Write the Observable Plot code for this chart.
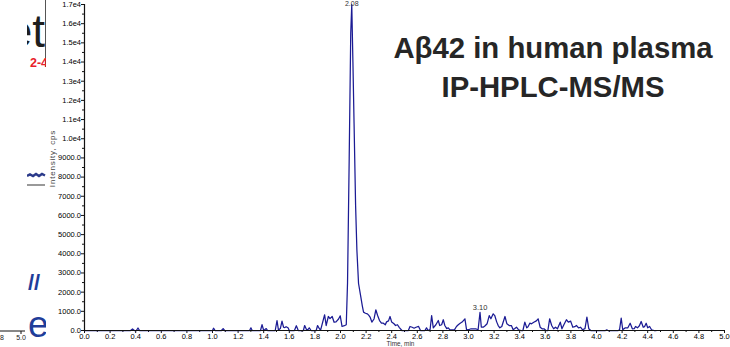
<!DOCTYPE html>
<html>
<head>
<meta charset="utf-8">
<script src="https://cdn.jsdelivr.net/npm/d3@7"></script>
<script src="https://cdn.jsdelivr.net/npm/@observablehq/plot@0.6"></script>
<style>
  html, body { margin: 0; padding: 0; background: #fff; }
  #wrap { position: relative; width: 730px; height: 347px; overflow: hidden; background: #fff; }
  #wrap > svg.overlay { position: absolute; left: 0; top: 0; pointer-events: none; }
</style>
</head>
<body>
<div id="wrap"></div>
<script>
// ---- data ----
const times = [
  0.00, 0.36, 0.375, 0.39, 0.405, 0.418, 0.43,
  1.00, 1.008, 1.02, 1.07, 1.083, 1.095,
  1.29, 1.30, 1.31, 1.375, 1.387, 1.40, 1.42, 1.43,
  1.49, 1.504, 1.515, 1.53, 1.543, 1.555, 1.565, 1.575, 1.59, 1.60,
  1.64, 1.655, 1.67, 1.71, 1.72, 1.735, 1.745, 1.756, 1.77,
  1.81, 1.821, 1.835, 1.845, 1.876, 1.888, 1.905, 1.918, 1.935, 1.95, 1.965, 1.985, 1.998,
  2.012, 2.03, 2.045, 2.055, 2.068, 2.08, 2.088, 2.097, 2.106, 2.118, 2.128, 2.141, 2.159, 2.17, 2.18,
  2.195, 2.21, 2.22, 2.231, 2.245, 2.262, 2.276, 2.29, 2.305, 2.32, 2.335, 2.35, 2.36, 2.375, 2.387,
  2.40, 2.418, 2.43, 2.445, 2.46, 2.48,
  2.53, 2.543, 2.56, 2.575, 2.59, 2.61, 2.625, 2.66, 2.672, 2.685,
  2.70, 2.712, 2.725, 2.745, 2.764, 2.775, 2.79, 2.803, 2.815, 2.83, 2.842, 2.855,
  2.89, 2.906, 2.92, 2.935, 2.95, 2.972, 2.985, 3.00, 3.02, 3.04, 3.06, 3.075,
  3.09, 3.10, 3.115, 3.13, 3.145, 3.162, 3.175, 3.193, 3.205, 3.22, 3.232, 3.245, 3.26, 3.285,
  3.30, 3.318, 3.335, 3.349, 3.362, 3.375, 3.39, 3.41, 3.425,
  3.44, 3.455, 3.465, 3.479, 3.492, 3.51, 3.53, 3.544, 3.56, 3.575, 3.59, 3.605, 3.62,
  3.634, 3.65, 3.665, 3.68, 3.695, 3.717, 3.73, 3.745, 3.765, 3.78, 3.798, 3.815, 3.83, 3.843,
  3.86, 3.875, 3.89, 3.91, 3.925, 3.94, 3.955,
  4.07, 4.08, 4.09, 4.17, 4.18, 4.193, 4.205, 4.225, 4.245, 4.263, 4.28, 4.295, 4.305, 4.32,
  4.335, 4.349, 4.365, 4.375, 4.388, 4.40, 4.415, 4.43, 4.45, 4.466
];
const intensities = [
  0, 0, 80, 0, 0, 130, 0,
  0, 120, 0, 0, 100, 0,
  0, 140, 0, 0, 310, 0, 100, 0,
  0, 520, 30, 100, 490, 170, 150, 200, 140, 0,
  0, 250, 0, 0, 260, 40, 40, 140, 0,
  0, 260, 90, 30, 820, 260, 730, 620, 730, 430, 450, 600, 765,
  210, 250, 300, 2500, 9000, 15500, 17000, 14000, 10800, 6500, 4200, 2450, 1740, 1300, 960,
  900, 870, 800, 700, 440, 600, 1080, 780, 520, 380, 380, 300, 450, 500, 730,
  440, 350, 260, 300, 150, 0,
  0, 210, 170, 120, 170, 210, 0, 0, 140, 0,
  50, 780, 140, 300, 520, 260, 300, 560, 260, 100, 140, 30,
  30, 210, 300, 380, 440, 610, 30, 40, 90, 90, 80, 40,
  950, 180, 170, 250, 350, 780, 610, 870, 780, 450, 260, 140, 210, 730,
  350, 260, 260, 40, 100, 170, 40, 0, 0,
  435, 140, 200, 380, 350, 430, 500, 610, 170, 90, 90, 0, 0,
  610, 260, 90, 170, 90, 435, 90, 300, 560, 435, 490, 170, 200, 260,
  140, 170, 40, 100, 700, 90, 0,
  0, 30, 0, 0, 40, 645, 40, 140, 140, 380, 90, 100, 210, 140,
  250, 470, 170, 200, 380, 140, 210, 40, 0, 0
];
const peakLabels = ["2.08", "3.10"];
const peakTimes = [2.088, 3.09];
const peakValues = [17000, 950];

const xTickValues = [0, 0.2, 0.4, 0.6, 0.8, 1.0, 1.2, 1.4, 1.6, 1.8, 2.0, 2.2, 2.4, 2.6, 2.8, 3.0, 3.2, 3.4, 3.6, 3.8, 4.0, 4.2, 4.4, 4.6, 4.8, 5.0];
const xTickLabels = ["0.0","0.2","0.4","0.6","0.8","1.0","1.2","1.4","1.6","1.8","2.0","2.2","2.4","2.6","2.8","3.0","3.2","3.4","3.6","3.8","4.0","4.2","4.4","4.6","4.8","5.0"];
const yTickValues = [0, 1000, 2000, 3000, 4000, 5000, 6000, 7000, 8000, 9000, 10000, 11000, 12000, 13000, 14000, 15000, 16000, 17000];
const yTickLabels = ["0.0","1000.0","2000.0","3000.0","4000.0","5000.0","6000.0","7000.0","8000.0","9000.0","1.0e4","1.1e4","1.2e4","1.3e4","1.4e4","1.5e4","1.6e4","1.7e4"];
const xMinor = xTickValues.slice(0, -1).map(v => v + 0.1);
const yMinor = yTickValues.slice(0, -1).map(v => v + 500);

const titleLines = ["Aβ42 in human plasma", "IP-HPLC-MS/MS"];
const xLabel = "Time, min";
const yLabel = "Intensity, cps";

// ---- build ----
const trace = times.map((t, i) => ({t, v: intensities[i]}));
const peaks = peakLabels.map((l, i) => ({label: l, t: peakTimes[i], v: peakValues[i]}));
const traceColor = "#1b1b94";

const chart = Plot.plot({
  width: 730,
  height: 347,
  marginLeft: 84,
  marginRight: 6,
  marginTop: 4,
  marginBottom: 17,
  x: {domain: [0, 5]},
  y: {domain: [0, 17000]},
  style: {fontFamily: "'Liberation Sans', Arial, sans-serif", fontSize: "7.5px", color: "#000", background: "transparent"},
  marks: [
    Plot.axisY(yTickValues, {tickSize: 3, tickPadding: 0.5, tickFormat: d => yTickLabels[yTickValues.indexOf(d)], label: null, stroke: "#111"}),
    Plot.axisY(yMinor, {tickSize: 2, tickFormat: () => "", label: null, stroke: "#111"}),
    Plot.axisX(xTickValues, {tickSize: 3, tickPadding: 0, tickFormat: d => xTickLabels[xTickValues.indexOf(d)], label: null, stroke: "#111"}),
    Plot.axisX(xMinor, {tickSize: 2, tickFormat: () => "", label: null, stroke: "#111"}),
    Plot.line(trace, {x: "t", y: "v", stroke: traceColor, strokeWidth: 1.25, strokeLinejoin: "round"}),
    Plot.ruleY([0], {stroke: "#111", strokeWidth: 1.2}),
    Plot.ruleX([0], {stroke: "#111", strokeWidth: 1.2}),
    Plot.text(peaks, {x: "t", y: "v", text: "label", lineAnchor: "bottom", dy: -2, fill: "#333", fontSize: 7.5,
      filter: d => d.v < 17000}),
    Plot.text(peaks, {x: "t", text: "label", frameAnchor: "top", lineAnchor: "top", dy: -3.5, fill: "#333", fontSize: 7,
      filter: d => d.v >= 17000}),
    Plot.text([yLabel], {frameAnchor: "left", dx: -32, dy: -9, rotate: -90, textAnchor: "middle", fill: "#444", fontSize: 8}),
    Plot.text([xLabel], {frameAnchor: "bottom", dx: -4, dy: 10.6, lineAnchor: "top", fill: "#333", fontSize: 6.4})
  ]
});
d3.select(chart).selectAll("text").filter(function() { return this.textContent === yLabel; }).attr("letter-spacing", "0.8");

const wrap = document.getElementById("wrap");
wrap.appendChild(chart);

// ---- overlay: title and fragments of the surrounding slide ----
const ov = d3.select(wrap).append("svg").attr("class", "overlay").attr("width", 730).attr("height", 347)
  .style("font-family", "'Liberation Sans', Arial, sans-serif");
const defs = ov.append("defs");
defs.append("clipPath").attr("id", "slideclip").append("rect").attr("x", 27).attr("y", 0).attr("width", 19).attr("height", 347);

const title = ov.append("g").attr("fill", "#262626").attr("font-weight", "bold").attr("font-size", 29.3).attr("text-anchor", "middle");
title.append("text").attr("x", 553).attr("y", 58).text(titleLines[0]);
title.append("text").attr("x", 553).attr("y", 97).text(titleLines[1]);

const frag = ov.append("g").attr("clip-path", "url(#slideclip)");
frag.append("text").attr("x", 45).attr("y", 47).attr("text-anchor", "end").attr("font-size", 46).attr("fill", "#1e1e1e").text("et");
frag.append("line").attr("x1", 45.5).attr("x2", 45.5).attr("y1", 0).attr("y2", 67).attr("stroke", "#555").attr("stroke-width", 1);
frag.append("text").attr("x", 30).attr("y", 67).attr("font-size", 12.5).attr("font-weight", "bold").attr("fill", "#e8202a").text("2-4");
frag.append("path").attr("d", "M27,176 L30,174.5 L33,176 L36,174 L39,176 L42,174 L45,175.5").attr("fill", "none").attr("stroke", "#2b3a8a").attr("stroke-width", 2.5);
frag.append("line").attr("x1", 27).attr("x2", 45).attr("y1", 185).attr("y2", 185).attr("stroke", "#777").attr("stroke-width", 1.5);
frag.append("text").attr("x", 28).attr("y", 290).attr("font-size", 22).attr("font-weight", "bold").attr("fill", "#1f3d99").text("//");
frag.append("text").attr("x", 28).attr("y", 337).attr("font-size", 37).attr("fill", "#1f3d99").text("e");

const leftAx = ov.append("g").attr("font-size", 7).attr("fill", "#222").attr("text-anchor", "middle");
leftAx.append("line").attr("x1", 0).attr("x2", 25).attr("y1", 331).attr("y2", 331).attr("stroke", "#111");
leftAx.append("line").attr("x1", 21).attr("x2", 21).attr("y1", 331).attr("y2", 334).attr("stroke", "#111");
leftAx.append("text").attr("x", 21).attr("y", 340).text("5.0");
leftAx.append("text").attr("x", 2).attr("y", 340).text("8");
</script>
</body>
</html>
